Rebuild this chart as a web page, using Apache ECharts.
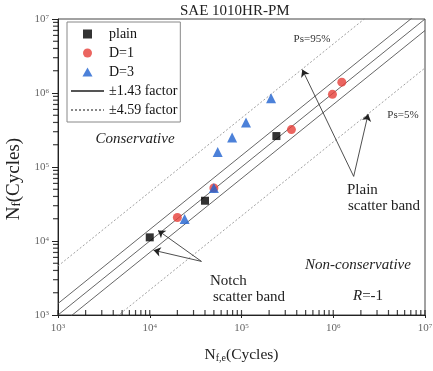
<!DOCTYPE html>
<html><head><meta charset="utf-8">
<script src="https://cdn.jsdelivr.net/npm/echarts@6/dist/echarts.min.js"></script>
<style>html,body{margin:0;padding:0;background:#fff}#c{width:433px;height:371px}</style>
</head><body><div id="c"></div>
<script>
// ---- data ----
const plainX = [1.0e4, 4.0e4, 2.4e5];
const plainY = [1.12e4, 3.5e4, 2.62e5];
const d1X = [2.0e4, 5.0e4, 3.5e5, 9.8e5, 1.24e6];
const d1Y = [2.08e4, 5.2e4, 3.2e5, 9.6e5, 1.4e6];
const d3X = [2.4e4, 5.0e4, 5.5e4, 7.9e4, 1.12e5, 2.1e5];
const d3Y = [1.98e4, 5.2e4, 1.6e5, 2.5e5, 4.0e5, 8.5e5];
const bandFactors = [1.43, 1, 1 / 1.43];
const wideFactors = [4.59, 1 / 4.59];
const lineRange = [1e3, 1e7];
const majorTicks = [1e3, 1e4, 1e5, 1e6, 1e7];
const minorTicks = [2e3,3e3,4e3,5e3,6e3,7e3,8e3,9e3, 2e4,3e4,4e4,5e4,6e4,7e4,8e4,9e4,
  2e5,3e5,4e5,5e5,6e5,7e5,8e5,9e5, 2e6,3e6,4e6,5e6,6e6,7e6,8e6,9e6];
const plainArrows = [[[1.67e6, 7.46e4], [4.6e5, 2.07e6]], [[1.67e6, 7.46e4], [2.4e6, 5.2e5]]];
const notchArrows = [[[3.66e4, 5.3e3], [1.23e4, 1.39e4]], [[3.66e4, 5.3e3], [1.1e4, 7.5e3]]];

const SERIF = '"Liberation Serif", "DejaVu Serif", serif';
const zip = (a, b) => a.map((v, i) => [v, b[i]]);
const factorLine = k => lineRange.map(x => [x, k * x]);
const expLabel = v => '{b|10}{s|' + Math.round(Math.log10(v)) + '}';
const labelRich = { b: { fontSize: 11, fontFamily: SERIF, color: '#666' },
                    s: { fontSize: 7, fontFamily: SERIF, color: '#666', verticalAlign: 'top', padding: [0, 0, 4, 0] } };

const chart = echarts.init(document.getElementById('c'), null, { renderer: 'canvas' });

const arrowData = plainArrows.concat(notchArrows).map(p => [{ coord: p[0] }, { coord: p[1] }]);

const series = [];
bandFactors.forEach((k, i) => series.push({
  name: '±1.43 factor', type: 'line', data: factorLine(k), symbol: 'none', silent: true,
  color: '#555', itemStyle: { color: '#555' },
  lineStyle: { color: '#555', width: 0.9 }, z: 2, clip: true,
  markLine: i === 1 ? { silent: true, symbol: ['none', 'arrow'], symbolSize: 7, animation: false,
    lineStyle: { color: '#222', width: 0.8, type: 'solid' }, label: { show: false }, data: arrowData } : undefined
}));
wideFactors.forEach(k => series.push({
  name: '±4.59 factor', type: 'line', data: factorLine(k), symbol: 'none', silent: true,
  color: '#888', itemStyle: { color: '#888' },
  lineStyle: { color: '#888', width: 0.8, type: [2, 2] }, z: 2, clip: true
}));
series.push({ name: 'plain', type: 'scatter', data: zip(plainX, plainY), symbol: 'rect', symbolSize: 8,
  itemStyle: { color: '#000' }, z: 5 });
series.push({ name: 'D=1', type: 'scatter', data: zip(d1X, d1Y), symbol: 'circle', symbolSize: 9,
  itemStyle: { color: '#e63e38' }, z: 5 });
series.push({ name: 'D=3', type: 'scatter', data: zip(d3X, d3Y), symbol: 'triangle', symbolSize: 10,
  itemStyle: { color: '#1f62d0' }, z: 5 });
// minor / inner tick marks placed through the axes' log scales
series.push({ name: 'xticks', type: 'scatter', clip: false, z: 6,
  data: majorTicks.concat(minorTicks).map(v => [v, lineRange[0]]),
  symbol: 'rect', symbolSize: [1.2, 5], symbolOffset: [0, -2.5], itemStyle: { color: '#111' } });
series.push({ name: 'yticks', type: 'scatter', clip: false, z: 6,
  data: minorTicks.map(v => [lineRange[0], v]),
  symbol: 'rect', symbolSize: [5, 1.2], symbolOffset: [-2.5, 0], itemStyle: { color: '#111' } });

const baseAxis = { type: 'log', logBase: 10, min: lineRange[0], max: lineRange[1], splitLine: { show: false }, minorTick: { show: false } };

chart.setOption({
  animation: false,
  backgroundColor: '#fff',
  title: { text: 'SAE 1010HR-PM', left: 180, top: 4, padding: 0,
    textStyle: { fontFamily: SERIF, fontSize: 15, fontWeight: 'normal', color: '#222' } },
  grid: { left: 58, right: 8, top: 19, bottom: 56, show: true, borderColor: '#444', borderWidth: 1,
    containLabel: false, outerBoundsMode: 'none' },
  legend: {
    orient: 'vertical', left: 67, top: 22, padding: [5, 3, 5, 3], itemWidth: 33, itemHeight: 9, itemGap: 5,
    borderColor: '#888', borderWidth: 1, backgroundColor: '#fff',
    textStyle: { fontFamily: SERIF, fontSize: 14, color: '#111' }, selectedMode: false,
    data: [
      { name: 'plain', icon: 'path://M0,0H10V10H0Z' },
      { name: 'D=1', icon: 'circle' },
      { name: 'D=3', icon: 'path://M5,0L10,9L0,9Z' },
      { name: '±1.43 factor', itemStyle: { opacity: 0 } },
      { name: '±4.59 factor', itemStyle: { opacity: 0 } }
    ]
  },
  xAxis: Object.assign({}, baseAxis, {
    position: 'bottom',
    axisLine: { lineStyle: { color: '#222', width: 1 } },
    axisTick: { inside: false, length: 3, lineStyle: { color: '#222' } },
    axisLabel: { formatter: expLabel, rich: labelRich, margin: 8 },
    name: '{b|N}{sub|f,e}{b|(Cycles)}', nameLocation: 'middle', nameGap: 32,
    nameTextStyle: { rich: { b: { fontFamily: SERIF, fontSize: 15.5, color: '#222' },
      sub: { fontFamily: SERIF, fontSize: 10, color: '#222', verticalAlign: 'bottom' } } }
  }),
  yAxis: Object.assign({}, baseAxis, {
    position: 'left',
    axisLine: { lineStyle: { color: '#222', width: 1 } },
    axisTick: { inside: false, length: 6, lineStyle: { color: '#222' } },
    axisLabel: { formatter: expLabel, rich: labelRich, margin: 9 },
    name: '{b|N}{sub|f}{b|(Cycles)}', nameLocation: 'middle', nameGap: 28, nameRotate: 90,
    nameTextStyle: { padding: [0, 24, 0, 0], rich: { b: { fontFamily: SERIF, fontSize: 19, color: '#222' },
      sub: { fontFamily: SERIF, fontSize: 12.5, color: '#222', verticalAlign: 'bottom' } } }
  }),
  series: series,
  graphic: [
    { type: 'text', x: 312, y: 39, style: { text: 'Ps=95%', fontFamily: SERIF, fontSize: 11, fill: '#333', align: 'center', verticalAlign: 'middle' } },
    { type: 'text', x: 403, y: 115, style: { text: 'Ps=5%', fontFamily: SERIF, fontSize: 11, fill: '#333', align: 'center', verticalAlign: 'middle' } },
    { type: 'text', x: 347, y: 190, style: { text: 'Plain', fontFamily: SERIF, fontSize: 15, fill: '#222', align: 'left', verticalAlign: 'middle' } },
    { type: 'text', x: 348, y: 206, style: { text: 'scatter band', fontFamily: SERIF, fontSize: 15, fill: '#222', align: 'left', verticalAlign: 'middle' } },
    { type: 'text', x: 210, y: 281, style: { text: 'Notch', fontFamily: SERIF, fontSize: 15, fill: '#222', align: 'left', verticalAlign: 'middle' } },
    { type: 'text', x: 213, y: 297, style: { text: 'scatter band', fontFamily: SERIF, fontSize: 15, fill: '#222', align: 'left', verticalAlign: 'middle' } },
    { type: 'text', x: 135, y: 139, style: { text: 'Conservative', fontFamily: SERIF, fontSize: 15, fontStyle: 'italic', fill: '#222', align: 'center', verticalAlign: 'middle' } },
    { type: 'text', x: 358, y: 265, style: { text: 'Non-conservative', fontFamily: SERIF, fontSize: 15, fontStyle: 'italic', fill: '#222', align: 'center', verticalAlign: 'middle' } },
    { type: 'text', x: 353, y: 296, style: { text: '{i|R}{n|=-1}', align: 'left', verticalAlign: 'middle',
      rich: { i: { fontFamily: SERIF, fontSize: 15, fontStyle: 'italic', fill: '#222' }, n: { fontFamily: SERIF, fontSize: 15, fill: '#222' } } } }
  ]
});
</script></body></html>
